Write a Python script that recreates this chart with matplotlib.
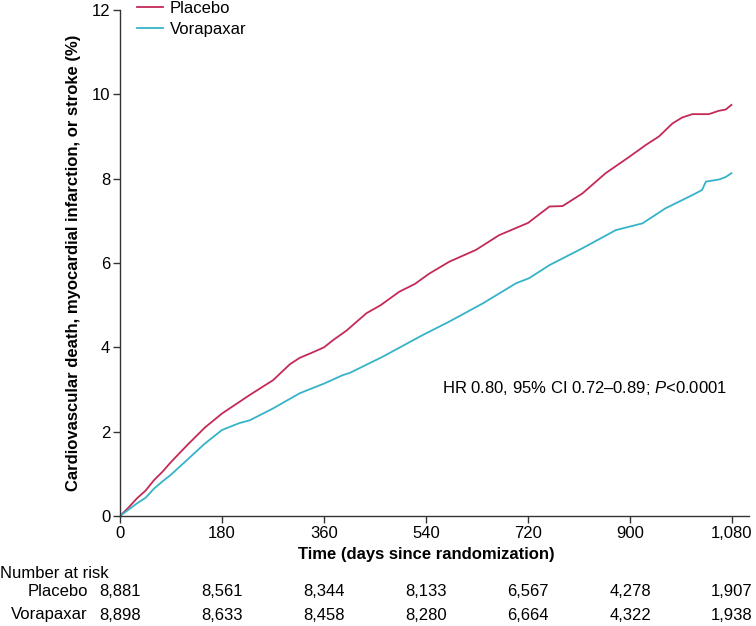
import numpy as np
import matplotlib
matplotlib.use("Agg")
import matplotlib.pyplot as plt
from matplotlib import transforms

plt.rcParams['font.family'] = ['Liberation Sans Narrow', 'Liberation Sans', 'DejaVu Sans']
plt.rcParams['mathtext.fontset'] = 'custom'
plt.rcParams['mathtext.it'] = 'Liberation Sans:italic'
plt.rcParams['mathtext.rm'] = 'Liberation Sans'

# curve values (days, % with event)
placebo_t = [0, 15, 30, 45, 60, 75, 90, 120, 150, 180, 210, 229, 250, 270, 300, 317,
             340, 360, 376, 400, 435, 460, 493, 520, 546, 581, 628, 669, 720, 758,
             781, 816, 857, 899, 928, 951, 975, 992, 1010, 1039, 1057, 1069, 1079]
placebo_v = [0, 0.2, 0.42, 0.6, 0.85, 1.05, 1.28, 1.7, 2.1, 2.43, 2.7, 2.87, 3.05, 3.22,
             3.6, 3.75, 3.88, 4.0, 4.17, 4.4, 4.81, 5.0, 5.32, 5.5, 5.75, 6.03, 6.31,
             6.66, 6.95, 7.34, 7.35, 7.65, 8.13, 8.52, 8.80, 9.0, 9.31, 9.45, 9.53,
             9.53, 9.61, 9.64, 9.75]
vorapaxar_t = [0, 15, 30, 45, 60, 75, 90, 120, 150, 180, 210, 229, 270, 317, 330, 360,
               393, 405, 464, 534, 581, 640, 699, 722, 758, 816, 875, 922, 963, 1010,
               1027, 1034, 1057, 1069, 1079]
vorapaxar_v = [0, 0.15, 0.3, 0.43, 0.65, 0.82, 0.98, 1.35, 1.72, 2.04, 2.2, 2.27, 2.55,
               2.91, 2.98, 3.14, 3.34, 3.39, 3.78, 4.29, 4.61, 5.04, 5.52, 5.64, 5.95,
               6.35, 6.78, 6.94, 7.30, 7.61, 7.73, 7.93, 7.98, 8.04, 8.13]

risk_days = [0, 180, 360, 540, 720, 900, 1080]
tick_labels = ["0", "180", "360", "540", "720", "900", "1,080"]
risk_placebo = ["8,881", "8,561", "8,344", "8,133", "6,567", "4,278", "1,907"]
risk_vorapaxar = ["8,898", "8,633", "8,458", "8,280", "6,664", "4,322", "1,938"]

red = '#C42A56'
cyan = '#35B3C9'
fs = 12

fig = plt.figure(figsize=(7.56, 6.26), dpi=100)
ax = fig.add_axes([120/756, 110/626, 629/756, 506/626])

ax.plot(placebo_t, placebo_v, color=red, lw=1.3, label='Placebo')
ax.plot(vorapaxar_t, vorapaxar_v, color=cyan, lw=1.3, label='Vorapaxar')

ax.set_xlim(0, 1110)
ax.set_ylim(0, 12)
ax.set_xticks(risk_days)
ax.set_xticklabels(tick_labels)
ax.set_yticks([0, 2, 4, 6, 8, 10, 12])
for s in ['top', 'right']:
    ax.spines[s].set_visible(False)
for s in ['left', 'bottom']:
    ax.spines[s].set_color('#333333')
    ax.spines[s].set_linewidth(1.0)
ax.tick_params(length=5, width=1.0, color='#333333', labelsize=fs, pad=2)

ax.set_ylabel('Cardiovascular death, myocardial infarction, or stroke (%)',
              fontsize=fs, fontweight='bold', labelpad=8)

leg = ax.legend(loc='upper left', bbox_to_anchor=(17/629, 1.018), frameon=False,
                fontsize=fs, handlelength=1.55, handletextpad=0.4,
                labelspacing=0.35, borderpad=0, borderaxespad=0)

ax.text(569, 3.04, 'HR 0.80, 95% CI 0.72\u20130.89; $\\mathit{P}$<0.0001',
        fontsize=fs, va='center', ha='left', family='Liberation Sans')

trans = transforms.blended_transform_factory(ax.transData, fig.transFigure)
fig.text(540, (626-554)/626, 'Time (days since randomization)', transform=trans,
         ha='center', va='center', fontsize=fs, fontweight='bold')
fig.text(0.0, (626-573)/626, 'Number at risk', ha='left', va='center', fontsize=fs)
fig.text(88/756, (626-592)/626, 'Placebo', ha='right', va='center', fontsize=fs)
fig.text(88/756, (626-615)/626, 'Vorapaxar', ha='right', va='center', fontsize=fs)
for d, p, v in zip(risk_days, risk_placebo, risk_vorapaxar):
    fig.text(d, (626-592)/626, p, transform=trans, ha='center', va='center', fontsize=fs)
    fig.text(d, (626-615)/626, v, transform=trans, ha='center', va='center', fontsize=fs)

fig.savefig('out.png', dpi=100)
